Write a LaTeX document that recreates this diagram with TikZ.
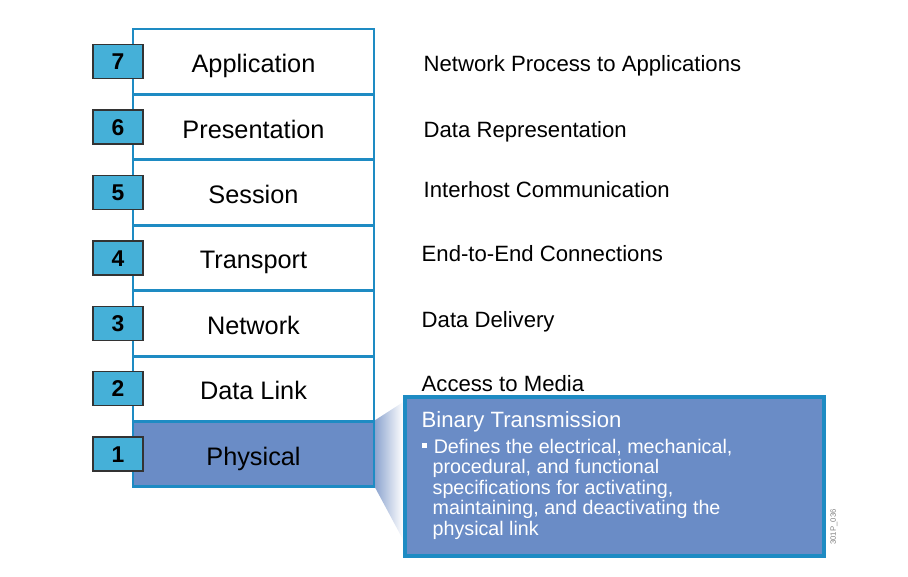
\documentclass[tikz,border=0pt]{standalone}
\usepackage{fontspec}
\setmainfont{Liberation Sans}
\usetikzlibrary{positioning,backgrounds}
\definecolor{osiblue}{HTML}{1E8BC3}
\definecolor{numfill}{HTML}{45B0D8}
\definecolor{physfill}{HTML}{6A8CC6}
\definecolor{fanblue}{HTML}{8FA6D0}

\begin{document}
\begin{tikzpicture}[
  layer/.style={draw=osiblue, line width=0.85pt, fill=white, minimum width=2.41cm,
    minimum height=0.654cm, inner sep=0pt, text height=6.3pt, text depth=0pt,
    font=\fontsize{7.2}{8.6}\selectfont},
  num/.style={draw=black!80, line width=0.4pt, fill=numfill, minimum width=0.5cm,
    minimum height=0.34cm, inner sep=0pt, text height=4.65pt, text depth=0pt,
    font=\bfseries\fontsize{6.5}{7.8}\selectfont},
  role/.style={anchor=base west, inner sep=0pt, font=\fontsize{6.3}{7.5}\selectfont},
  callbox/.style={draw=osiblue, line width=1pt, fill=physfill, minimum width=4.19cm,
    minimum height=1.59cm, inner sep=0pt}
]
  \useasboundingbox (0,0) rectangle (9.08,5.76);

  % the seven layers, top to bottom
  \foreach \n/\name in {7/Application,6/Presentation,5/Session,4/Transport,3/Network,2/Data Link} {
    \node[layer] (l\n) at (2.535,{1.219+(\n-1)*0.654}) {\name};
    \node[num] (n\n) at (1.18,{1.219+(\n-1)*0.654}) {\n};
  }
  \node[layer, fill=physfill] (l1) at (2.535,1.219) {Physical};
  \node[num] (n1) at (1.18,1.219) {1};

  % what each layer does
  \node[role] (r7) at (4.23,5.05) {Network Process to Applications};
  \node[role] (r6) at (4.23,4.39) {Data Representation};
  \node[role] (r5) at (4.23,3.79) {Interhost Communication};
  \node[role] (r4) at (4.21,3.15) {End-to-End Connections};
  \node[role] (r3) at (4.21,2.49) {Data Delivery};
  \node[role] (r2) at (4.21,1.85) {Access to Media};

  % callout for the physical layer
  \node[callbox] (call) at (6.145,0.995) {};
  \node[anchor=base west, inner sep=0pt, white, font=\fontsize{6.3}{7.5}\selectfont]
    (title) at (4.21,1.49) {Binary Transmission};
  \fill[white] (4.22,1.28) rectangle (4.27,1.33);
  \node[anchor=north west, inner sep=0pt, white, align=left,
    font=\fontsize{5.6}{5.83}\selectfont] (body) at (4.32,1.375)
    {\hspace{0.3pt}Defines the electrical, mechanical,\\procedural, and functional\\
     specifications for activating,\\maintaining, and deactivating the\\physical link};
  \node[rotate=90, inner sep=0pt, gray, font=\fontsize{2.2}{2.6}\selectfont]
    (tag) at (8.34,0.49) {301P\_036};

  % fan from the layer to the callout
  \begin{scope}[on background layer]
    \shade[left color=fanblue, right color=white]
      (l1.north east) -- (call.west |- 0,1.74) -- (call.west |- 0,0.36) -- (l1.south east) -- cycle;
  \end{scope}
\end{tikzpicture}
\end{document}
